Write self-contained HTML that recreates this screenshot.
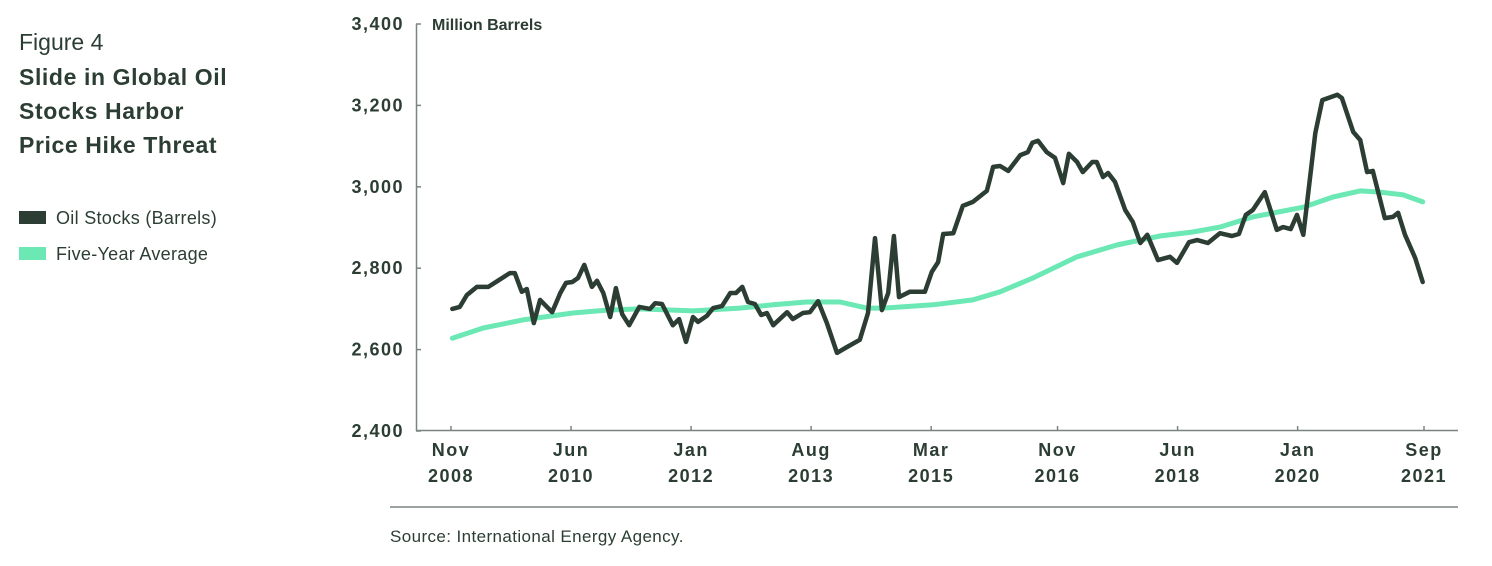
<!DOCTYPE html>
<html><head><meta charset="utf-8">
<style>
body{margin:0;background:#fff;width:1492px;height:561px;overflow:hidden;font-family:"Liberation Sans",sans-serif;color:#2c3e33}
svg text{font-family:"Liberation Sans",sans-serif}
</style></head><body>
<svg id="c" width="1492" height="561">
<text x="19" y="50" font-size="23" fill="#2c3e33">Figure 4</text>
<g font-size="23" font-weight="bold" fill="#2c3e33" letter-spacing="0.6">
<text x="19" y="85">Slide in Global Oil</text>
<text x="19" y="119">Stocks Harbor</text>
<text x="19" y="153">Price Hike Threat</text>
</g>
<g>
<rect x="19" y="211" width="27" height="13" fill="#2c3e33"/>
<text x="56" y="224" font-size="18" letter-spacing="0.3" fill="#2c3e33">Oil Stocks (Barrels)</text>
<rect x="19" y="247" width="27" height="13" fill="#6be8b4"/>
<text x="56" y="260" font-size="18" letter-spacing="0.3" fill="#2c3e33">Five-Year Average</text>
</g>
<text x="432" y="30" font-size="16" font-weight="bold" fill="#2c3e33">Million Barrels</text>
<line x1="416.5" y1="24" x2="416.5" y2="431" stroke="#7a8580" stroke-width="1.5"/>
<line x1="416" y1="430.5" x2="1458" y2="430.5" stroke="#7a8580" stroke-width="1.5"/>
<line x1="390" y1="507" x2="1458" y2="507" stroke="#7a8580" stroke-width="1.5"/>
<text x="390" y="542" font-size="17" letter-spacing="0.4" fill="#2c3e33">Source: International Energy Agency.</text>
<g id="yt"></g><g id="xt"></g>
<path id="avg" fill="none" stroke="#6be8b4" stroke-width="5" stroke-linejoin="round" stroke-linecap="round"/>
<path id="oil" fill="none" stroke="#2c3e33" stroke-width="4.5" stroke-linejoin="round" stroke-linecap="round"/>
</svg>
<script>
const yTicks=[2400,2600,2800,3000,3200,3400];
const yTickLabels=["2,400","2,600","2,800","3,000","3,200","3,400"];
const xTickMonths=[0,19,38,57,76,96,115,134,154];
const xTickMon=["Nov","Jun","Jan","Aug","Mar","Nov","Jun","Jan","Sep"];
const xTickYear=["2008","2010","2012","2013","2015","2016","2018","2020","2021"];
// months since Nov 2008
const oilMonths=[0.2,1.4,2.5,4.1,4.9,5.9,7.4,9.3,10.1,11.2,12.0,13.1,14.1,16.0,17.3,18.2,19.2,20.1,21.1,22.3,23.1,24.1,25.2,26.1,27.1,28.2,29.8,31.5,32.3,33.4,35.1,36.1,37.2,38.3,39.1,40.5,41.5,42.9,44.2,45.1,46.1,47.0,48.1,49.1,50.0,51.0,53.2,54.1,55.7,56.8,58.1,59.5,61.1,62.4,64.7,66.0,67.1,68.2,69.2,70.1,70.9,72.6,75.0,76.1,77.1,77.9,79.5,81.0,82.6,84.8,85.8,86.9,88.2,90.1,91.3,92.0,92.9,94.3,95.6,96.9,97.8,99.1,100.0,101.5,102.2,103.2,104.0,105.1,106.7,107.9,109.1,110.2,111.9,113.8,114.9,116.8,118.1,119.8,121.7,123.6,124.7,125.8,126.9,128.8,130.7,131.7,132.9,133.9,134.9,136.8,137.9,140.3,141.0,142.8,143.9,145.0,145.9,147.8,149.1,149.9,151.0,152.6,153.8];
const oilValues=[2700,2705,2734,2754,2754,2754,2769,2788,2788,2742,2749,2665,2722,2692,2739,2764,2766,2776,2808,2754,2769,2739,2680,2751,2687,2660,2705,2700,2714,2712,2660,2675,2619,2680,2668,2683,2702,2707,2739,2739,2754,2717,2712,2685,2690,2660,2692,2675,2690,2692,2719,2665,2592,2604,2624,2690,2874,2697,2739,2879,2729,2742,2742,2791,2815,2884,2886,2953,2963,2990,3049,3051,3039,3078,3085,3108,3113,3085,3071,3009,3081,3061,3036,3061,3061,3024,3034,3012,2943,2914,2862,2882,2820,2828,2813,2864,2869,2862,2886,2879,2884,2931,2943,2987,2894,2901,2896,2931,2882,3132,3213,3226,3218,3135,3115,3036,3039,2923,2926,2936,2882,2825,2766];
const avgMonths=[0.2,5.1,11.4,19.3,24.7,29.9,38.3,45.7,51.0,56.3,61.6,65.8,68.4,76.3,82.6,86.9,92.1,99.1,105.4,112.2,117.4,121.7,126.9,134.9,139.6,143.9,147.0,150.7,153.8];
const avgValues=[2628,2653,2673,2690,2697,2700,2695,2702,2710,2717,2717,2702,2702,2710,2722,2742,2776,2828,2857,2879,2889,2901,2926,2950,2975,2990,2987,2980,2963];
const X=m=>451+m*(973/154);
const Y=v=>431-(v-2400)*(407/1000);
const NS="http://www.w3.org/2000/svg";
const yt=document.getElementById('yt'),xt=document.getElementById('xt');
yTicks.forEach((v,i)=>{
 const t=document.createElementNS(NS,'text');
 t.setAttribute('x',404);t.setAttribute('y',Y(v)+6);t.setAttribute('text-anchor','end');
 t.setAttribute('font-size','18');t.setAttribute('font-weight','bold');t.setAttribute('fill','#2c3e33');
 t.setAttribute('letter-spacing','1.5');
 t.textContent=yTickLabels[i];
 
 
 yt.appendChild(t);
 const l=document.createElementNS(NS,'line');
 l.setAttribute('x1',416);l.setAttribute('x2',421);l.setAttribute('y1',Y(v));l.setAttribute('y2',Y(v));
 l.setAttribute('stroke','#7a8580');l.setAttribute('stroke-width','1.5');
 
 
 yt.appendChild(l);
});
xTickMonths.forEach((m,i)=>{
 const x=X(m);
 const l=document.createElementNS(NS,'line');
 l.setAttribute('x1',x);l.setAttribute('x2',x);l.setAttribute('y1',426);l.setAttribute('y2',431);
 l.setAttribute('stroke','#7a8580');l.setAttribute('stroke-width','1.5');
 
 
 xt.appendChild(l);
 [[xTickMon[i],456],[xTickYear[i],482]].forEach(([s,y])=>{
  const t=document.createElementNS(NS,'text');
  t.setAttribute('x',x);t.setAttribute('y',y);t.setAttribute('text-anchor','middle');
  t.setAttribute('font-size','18');t.setAttribute('font-weight','bold');t.setAttribute('fill','#2c3e33');
  t.setAttribute('letter-spacing','1.5');
  t.textContent=s;
  
  
  xt.appendChild(t);
 });
});
const path=(ms,vs)=>ms.map((m,i)=>(i?'L':'M')+X(m).toFixed(1)+','+Y(vs[i]).toFixed(1)).join('');
document.getElementById('oil').setAttribute('d',path(oilMonths,oilValues));
document.getElementById('avg').setAttribute('d',path(avgMonths,avgValues));
</script>
</body></html>
